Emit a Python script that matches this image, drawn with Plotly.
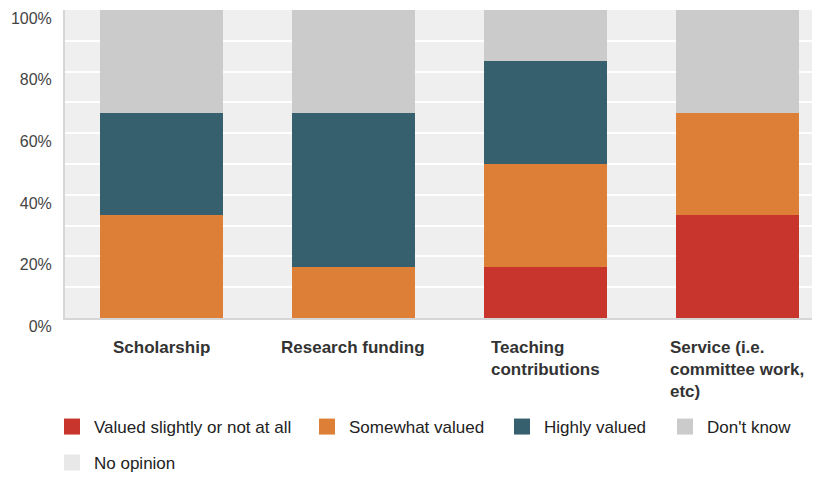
import plotly.graph_objects as go

# survey categories (label lines split with <br>)
categories = ["Scholarship", "Research funding", "Teaching<br>contributions",
              "Service (i.e.<br>committee work,<br>etc)"]

# percent of responses per category, stacked bottom -> top
slightly = [0, 0, 16.7, 33.3]
somewhat = [33.3, 16.7, 33.3, 33.3]
highly = [33.3, 50.0, 33.3, 0]
dont_know = [33.4, 33.3, 16.7, 33.4]
no_opinion = [0, 0, 0, 0]

series = [
    ("Valued slightly or not at all", slightly, "#c8352c"),
    ("Somewhat valued", somewhat, "#dd7f36"),
    ("Highly valued", highly, "#36606e"),
    ("Don't know", dont_know, "#cbcbcb"),
    ("No opinion", no_opinion, "#e8e8e8"),
]

# page body has an 8px margin, so the figure is drawn 8px smaller
W, H = 812, 469
xpos = list(range(len(categories)))

# one legend box per entry so the spacing can follow the original
legend_left = [42, 297, 492, 655, 42]
legend_mid = [419, 419, 419, 419, 455]
legend_ids = ["legend", "legend2", "legend3", "legend4", "legend5"]

fig = go.Figure()
for i, (name, vals, color) in enumerate(series):
    fig.add_trace(go.Bar(x=xpos, y=vals, name=name, marker_color=color,
                         marker_line_width=0, width=0.64, showlegend=False))
    # square legend swatches (bar legend icons are too small)
    fig.add_trace(go.Scatter(x=[None], y=[None], mode="markers", name=name,
                             marker=dict(symbol="square", size=16, color=color),
                             legend=legend_ids[i]))

for x, label in zip(xpos, categories):
    fig.add_annotation(x=x, y=0, xref="x", yref="paper", yanchor="top",
                       yshift=-18, text="<b>" + label + "</b>", showarrow=False,
                       align="left", xanchor="center",
                       font=dict(size=17, color="#333333"))

legends = {}
for lid, lx, ly in zip(legend_ids, legend_left, legend_mid):
    legends[lid] = dict(x=lx / W, y=1 - ly / H, orientation="h",
                        xref="container", yref="container",
                        xanchor="left", yanchor="middle",
                        bgcolor="rgba(0,0,0,0)", itemsizing="trace",
                        itemwidth=34,
                        font=dict(size=17, color="#222222"))

fig.update_layout(
    barmode="stack",
    width=W, height=H,
    margin=dict(l=57, r=0, t=2, b=159),
    paper_bgcolor="white",
    plot_bgcolor="#efefef",
    font=dict(family="Liberation Sans, Arial, sans-serif"),
    **legends,
)
fig.update_xaxes(range=[-0.5, 3.43], showticklabels=False, showgrid=False,
                 showline=True, linecolor="#d6d6d6", linewidth=2, zeroline=False)
fig.update_yaxes(range=[0, 100], tickvals=[0, 20, 40, 60, 80, 100],
                 ticktext=["0%", "20%", "40%", "60%", "80%", "100%"],
                 ticklabelposition="outside bottom", ticklabelstandoff=8,
                 ticklabelshift=-3,
                 tickfont=dict(size=16, color="#444444"),
                 gridcolor="white", gridwidth=2,
                 minor=dict(dtick=10, showgrid=True, gridcolor="white", gridwidth=2),
                 showline=True, linecolor="#d6d6d6", linewidth=2, zeroline=False)

fig.write_html("out.html")
